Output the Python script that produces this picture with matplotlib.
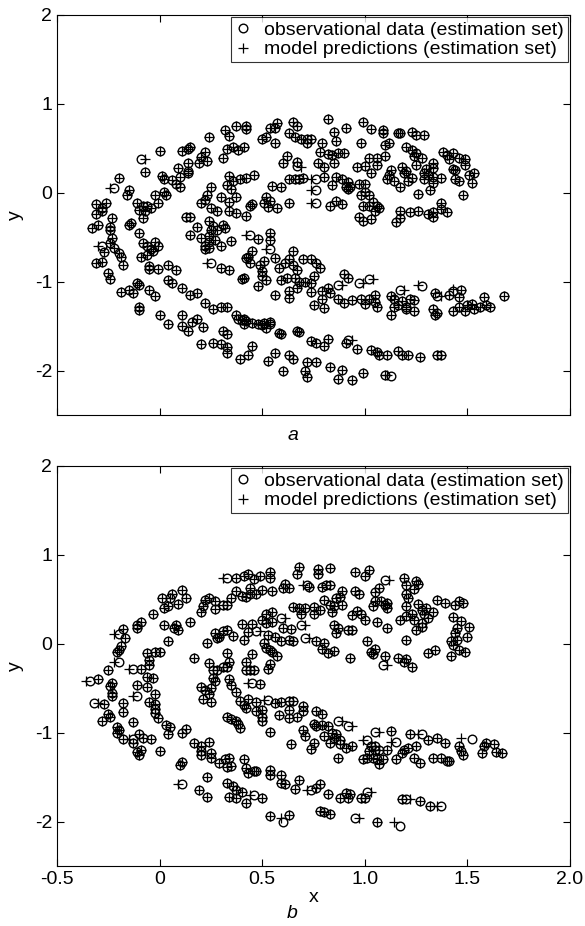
import numpy as np
import matplotlib
matplotlib.use('Agg')
import matplotlib.pyplot as plt

plt.rcParams['font.family'] = ['Liberation Sans', 'DejaVu Sans']

# panel a: points where the prediction sits on the observation
a_points = [
    (0.37, 0.75), (0.42, 0.75), (0.32, 0.71), (0.34, 0.64), (0.24, 0.63), (0.00, 0.47),
    (0.11, 0.47), (0.14, 0.49), (0.15, 0.51), (0.22, 0.46), (0.20, 0.40), (0.23, 0.36),
    (0.19, 0.33), (0.14, 0.34), (0.31, 0.39), (0.33, 0.49), (0.36, 0.51), (0.38, 0.48),
    (0.41, 0.52), (0.09, 0.28), (0.14, 0.25), (0.14, 0.22), (-0.07, 0.23), (0.01, 0.19),
    (0.02, 0.15), (0.06, 0.14), (0.08, 0.10), (0.10, 0.07), (0.10, 0.18), (-0.20, 0.17),
    (-0.15, 0.03), (-0.16, -0.02), (-0.02, -0.02), (0.02, 0.01), (0.03, -0.03), (-0.11, -0.12),
    (-0.08, -0.15), (-0.06, -0.15), (-0.04, -0.17), (-0.10, -0.19), (-0.01, -0.12),
    (-0.31, -0.13), (-0.28, -0.17), (-0.26, -0.12), (0.25, 0.06), (0.33, 0.09), (0.35, 0.04),
    (0.36, 0.13), (0.34, 0.19), (0.39, 0.15), (0.42, 0.17), (0.23, -0.02), (0.22, -0.08),
    (0.20, -0.12), (0.30, -0.05), (0.34, -0.10), (0.37, -0.05), (0.25, -0.17), (0.28, -0.21),
    (0.34, -0.21), (0.37, -0.23), (0.44, -0.15),
    (-0.31, -0.24), (-0.28, -0.21), (-0.23, -0.28), (-0.33, -0.40), (-0.30, -0.36), (-0.24, -0.38),
    (-0.24, -0.42), (-0.14, -0.34), (-0.15, -0.36), (-0.08, -0.28), (-0.07, -0.21), (-0.10, -0.45),
    (-0.23, -0.51), (-0.24, -0.57), (-0.27, -0.67), (-0.22, -0.62), (-0.20, -0.68), (-0.19, -0.72),
    (-0.18, -0.81), (-0.31, -0.79), (-0.28, -0.78), (-0.08, -0.57), (-0.06, -0.60), (-0.04, -0.63),
    (-0.02, -0.55), (-0.01, -0.60), (-0.03, -0.66), (-0.09, -0.72), (-0.06, -0.70), (-0.05, -0.82),
    (-0.05, -0.86), (-0.01, -0.86), (0.04, -0.81), (0.08, -0.87), (-0.25, -0.90), (-0.24, -0.97),
    (-0.11, -1.01), (-0.10, -1.04), (0.04, -0.98), (0.06, -1.01), (0.11, -1.07), (-0.19, -1.12),
    (-0.15, -1.09), (-0.13, -1.13), (-0.05, -1.09), (-0.02, -1.16), (-0.10, -1.28), (-0.10, -1.32),
    (0.15, -1.15), (0.18, -1.13), (0.22, -1.24), (0.26, -1.31), (0.30, -1.28), (0.33, -1.28),
    (0.00, -1.38), (0.11, -1.38), (0.04, -1.48), (0.11, -1.50), (0.14, -1.55), (0.16, -1.45),
    (0.18, -1.42), (0.21, -1.51), (0.37, -1.38), (0.40, -1.43), (0.41, -1.48), (0.31, -1.56),
    (0.13, -0.27), (0.15, -0.27), (0.18, -0.38), (0.15, -0.47), (0.20, -0.51), (0.22, -0.60),
    (0.24, -0.55), (0.24, -0.49), (0.27, -0.53), (0.28, -0.42), (0.26, -0.37), (0.24, -0.32),
    (0.25, -0.42), (0.24, -0.62), (0.22, -0.63), (0.31, -0.36), (0.32, -0.40), (0.30, -0.60),
    (0.35, -0.54), (0.30, -0.85), (0.34, -0.87), (0.40, -0.97), (0.42, -0.73), (0.42, -0.26),
    (0.82, 0.83), (0.99, 0.80), (0.91, 0.73), (1.03, 0.72), (1.09, 0.71), (1.09, 0.67),
    (1.16, 0.67), (0.85, 0.68), (0.42, 0.72), (0.54, 0.73), (0.57, 0.78), (0.56, 0.73),
    (0.65, 0.80), (0.67, 0.75), (0.63, 0.67), (0.66, 0.63), (0.69, 0.61), (0.72, 0.60),
    (0.74, 0.61), (0.72, 0.56), (0.50, 0.60), (0.52, 0.63), (0.56, 0.56), (0.79, 0.56),
    (0.86, 0.58), (0.98, 0.56), (1.10, 0.54), (1.12, 0.56), (0.78, 0.46), (0.82, 0.44),
    (0.84, 0.42), (0.87, 0.45), (0.90, 0.45), (0.62, 0.41), (0.60, 0.33), (0.67, 0.35),
    (0.77, 0.33), (0.80, 0.29), (0.85, 0.33), (0.96, 0.29), (1.00, 0.30), (1.02, 0.39),
    (1.06, 0.39), (1.10, 0.41), (1.06, 0.31), (1.03, 0.22), (1.13, 0.26), (1.12, 0.20),
    (1.11, 0.15), (1.14, 0.13), (1.17, 0.07), (1.18, 0.29), (1.19, 0.22), (0.46, 0.20),
    (0.63, 0.15), (0.66, 0.15), (0.68, 0.15), (0.70, 0.17), (0.80, 0.18), (0.86, 0.18),
    (0.89, 0.15), (0.92, 0.12), (0.93, 0.07), (0.91, 0.07), (0.84, 0.09), (0.97, 0.10),
    (1.00, 0.10), (0.55, 0.08), (0.59, 0.07), (0.92, 0.04), (1.00, 0.01), (0.98, -0.03),
    (1.02, -0.03), (0.52, -0.05), (0.54, -0.09), (0.51, -0.12), (0.53, -0.16), (0.57, -0.17),
    (0.45, -0.13), (0.63, -0.11), (0.86, -0.09), (0.83, -0.15), (0.89, -0.13), (0.99, -0.15),
    (1.04, -0.10), (1.02, -0.15), (1.06, -0.15), (1.07, -0.17), (1.17, -0.20),
    (1.17, 0.67), (1.23, 0.68), (1.25, 0.65), (1.29, 0.65), (1.20, 0.51), (1.23, 0.48),
    (1.25, 0.45), (1.24, 0.41), (1.28, 0.39), (1.38, 0.46), (1.40, 0.43), (1.41, 0.38),
    (1.43, 0.45), (1.46, 0.39), (1.49, 0.38), (1.49, 0.31), (1.33, 0.33), (1.33, 0.28),
    (1.30, 0.27), (1.29, 0.22), (1.31, 0.20), (1.25, 0.31), (1.20, 0.25), (1.43, 0.27),
    (1.44, 0.26), (1.51, 0.20), (1.53, 0.22), (1.37, 0.17), (1.33, 0.18), (1.29, 0.15),
    (1.33, 0.11), (1.44, 0.15), (1.46, 0.13), (1.52, 0.11), (1.23, 0.17), (1.21, 0.13),
    (1.32, 0.03), (1.26, -0.01), (1.48, -0.03), (1.37, -0.11), (1.37, -0.18), (1.40, -0.22),
    (1.22, -0.22), (1.26, -0.21), (1.31, -0.24), (1.33, -0.22),
    (0.97, -0.27), (0.99, -0.32), (1.03, -0.30), (1.05, -0.21), (1.17, -0.28), (1.15, -0.33),
    (0.48, -0.52), (0.54, -0.45), (0.54, -0.53), (0.45, -0.66), (0.43, -0.72), (0.44, -0.79),
    (0.49, -0.81), (0.50, -0.88), (0.52, -0.98), (0.50, -0.94), (0.51, -0.77), (0.56, -0.73),
    (0.41, -0.96), (0.65, -0.66), (0.58, -0.85), (0.61, -0.79), (0.63, -0.75), (0.65, -0.81),
    (0.67, -0.87), (0.70, -0.74), (0.74, -0.75), (0.76, -0.79), (0.78, -0.85), (0.59, -0.98),
    (0.62, -0.96), (0.66, -0.96), (0.68, -1.00), (0.71, -1.00), (0.74, -1.01), (0.75, -0.94),
    (0.67, -1.07), (0.63, -1.11), (0.63, -1.18), (0.48, -1.05), (0.56, -1.15), (0.74, -1.12),
    (0.79, -1.11), (0.82, -1.07), (0.83, -1.13), (0.75, -1.26), (0.79, -1.20), (0.80, -1.30),
    (0.90, -0.91), (0.92, -0.96), (0.87, -1.20), (0.90, -1.24), (0.94, -1.21), (0.98, -1.19),
    (1.00, -1.25), (1.02, -1.20), (1.05, -1.15), (1.05, -1.23), (1.06, -1.28), (1.13, -1.16),
    (1.14, -1.20), (1.16, -1.26), (1.14, -1.28), (1.18, -1.22), (1.20, -1.28), (1.13, -1.37),
    (0.41, -1.42), (0.45, -1.46), (0.48, -1.48), (0.50, -1.49), (0.52, -1.52), (0.54, -1.45),
    (0.54, -1.48), (0.58, -1.58), (0.67, -1.55), (0.68, -1.57),
    (1.33, -0.27), (1.34, -1.13), (1.41, -1.15), (1.47, -1.09), (1.46, -1.17), (1.58, -1.17),
    (1.68, -1.16), (1.22, -1.20), (1.24, -1.21), (1.20, -1.31), (1.24, -1.33), (1.33, -1.31),
    (1.35, -1.35), (1.34, -1.37), (1.43, -1.33), (1.46, -1.28), (1.49, -1.33), (1.50, -1.26),
    (1.52, -1.25), (1.53, -1.31), (1.56, -1.28), (1.59, -1.26), (1.61, -1.28),
    (0.33, -1.59), (0.20, -1.70), (0.26, -1.69), (0.30, -1.70), (0.33, -1.74), (0.33, -1.80),
    (0.38, -1.42), (0.42, -1.44), (0.51, -1.46), (0.59, -1.59), (0.74, -1.67), (0.76, -1.69),
    (0.45, -1.72), (0.43, -1.82), (0.39, -1.87), (0.53, -1.89), (0.56, -1.80), (0.63, -1.83),
    (0.65, -1.87), (0.72, -1.90), (0.76, -1.90), (0.60, -2.00), (0.71, -2.00), (0.72, -2.07),
    (0.80, -1.72), (0.82, -1.64), (0.91, -1.69), (0.96, -1.76), (1.03, -1.77), (1.06, -1.79),
    (1.07, -1.82), (1.11, -1.82), (1.16, -1.78), (1.18, -1.82), (1.21, -1.82), (1.27, -1.85),
    (1.35, -1.82), (1.37, -1.82), (0.83, -1.96), (0.89, -1.99), (0.99, -2.03), (1.10, -2.05),
    (0.87, -2.10), (0.94, -2.11),
]
# panel a: points where the cross is visibly off the circle
a_obs_off = [(-0.09, 0.38), (-0.22, 0.05), (-0.28, -0.60), (0.25, -0.79), (0.67, 0.30),
             (0.76, 0.15), (0.76, 0.03), (0.76, -0.11), (0.44, -0.48), (0.54, -0.63),
             (0.87, -1.04), (0.97, -1.02), (1.02, -0.97), (1.17, -1.09), (1.28, -1.05),
             (1.35, -1.16), (1.43, -1.11), (0.92, -1.66), (1.13, -2.06)]
a_pred_off = [(-0.07, 0.38), (-0.24, 0.05), (-0.30, -0.60), (0.23, -0.79), (0.69, 0.29),
              (0.74, 0.15), (0.74, 0.03), (0.74, -0.11), (0.42, -0.48), (0.52, -0.63),
              (0.89, -1.04), (0.99, -1.02), (1.04, -0.97), (1.19, -1.09), (1.26, -1.04),
              (1.37, -1.16), (1.43, -1.08), (0.94, -1.66), (1.11, -2.05)]

# panel b
b_points = [
    (0.37, 0.74), (0.41, 0.76), (0.43, 0.79), (0.46, 0.73), (0.49, 0.76), (0.54, 0.74),
    (0.54, 0.81), (0.68, 0.86), (0.67, 0.78), (0.77, 0.84), (0.77, 0.78), (0.61, 0.67),
    (0.63, 0.63), (0.60, 0.63), (0.73, 0.64), (0.37, 0.59), (0.35, 0.52), (0.40, 0.54),
    (0.42, 0.53), (0.44, 0.63), (0.44, 0.56), (0.47, 0.56), (0.50, 0.60), (0.55, 0.59),
    (0.01, 0.51), (0.05, 0.51), (0.06, 0.56), (0.11, 0.60), (0.13, 0.51), (0.09, 0.45),
    (0.02, 0.40), (0.04, 0.42), (-0.03, 0.33), (0.22, 0.49), (0.24, 0.51), (0.27, 0.48),
    (0.21, 0.42), (0.20, 0.36), (0.27, 0.39), (0.31, 0.44), (0.33, 0.44), (0.15, 0.25),
    (0.65, 0.41), (0.68, 0.40), (0.71, 0.40), (0.75, 0.41), (0.69, 0.33), (0.75, 0.33),
    (0.55, 0.36), (0.52, 0.33), (0.50, 0.27), (0.52, 0.23), (0.55, 0.25), (-0.09, 0.25),
    (-0.11, 0.21), (-0.11, 0.18), (-0.18, 0.17), (-0.17, 0.07), (0.02, 0.21), (0.08, 0.21),
    (0.07, 0.18), (0.09, 0.16), (0.40, 0.22), (0.45, 0.22), (0.33, 0.16), (0.31, 0.14),
    (0.27, 0.12), (0.29, 0.08), (0.28, 0.06), (0.36, 0.09), (0.43, 0.13), (0.41, 0.04),
    (0.23, 0.01), (0.60, 0.18), (0.64, 0.17), (0.53, 0.10), (0.56, 0.08), (0.51, 0.01),
    (0.52, -0.05), (0.54, -0.07), (0.55, -0.09), (0.57, -0.14), (0.59, 0.03), (0.63, 0.04),
    (0.65, 0.03), (0.76, 0.03), (0.04, 0.03), (-0.19, -0.03), (-0.21, -0.09), (-0.20, -0.07),
    (-0.06, -0.10), (-0.02, -0.09), (0.00, -0.09), (0.17, -0.16), (0.33, -0.10), (0.45, -0.12),
    (-0.05, -0.18), (-0.05, -0.24), (-0.25, -0.29), (-0.09, -0.28), (0.24, -0.22), (0.26, -0.29),
    (0.28, -0.30), (0.31, -0.26), (0.33, -0.26), (0.34, -0.20), (0.42, -0.20), (0.44, -0.29),
    (0.46, -0.30), (0.42, -0.30), (0.54, -0.23), (0.53, -0.28), (-0.06, -0.37), (-0.03, -0.39),
    (-0.30, -0.40), (-0.23, -0.44), (0.26, -0.39), (0.27, -0.42), (0.34, -0.40), (0.35, -0.46),
    (0.49, -0.45), (-0.11, -0.46), (-0.06, -0.49), (0.20, -0.49), (0.25, -0.50),
    (0.83, 0.85), (0.95, 0.81), (1.00, 0.76), (1.02, 0.83), (1.19, 0.74), (1.20, 0.66),
    (1.25, 0.71), (1.26, 0.67), (1.24, 0.62), (0.79, 0.64), (0.81, 0.66), (0.83, 0.66),
    (0.89, 0.59), (0.88, 0.53), (0.86, 0.51), (0.95, 0.59), (0.97, 0.56), (1.05, 0.58),
    (1.07, 0.63), (1.20, 0.56), (1.21, 0.52), (0.80, 0.49), (0.83, 0.44), (0.85, 0.42),
    (0.84, 0.36), (0.89, 0.44), (0.78, 0.38), (1.05, 0.48), (1.08, 0.48), (1.10, 0.44),
    (1.11, 0.46), (1.11, 0.40), (1.04, 0.42), (1.20, 0.43), (1.26, 0.45), (1.28, 0.38),
    (1.30, 0.40), (1.33, 0.36), (1.29, 0.33), (1.31, 0.29), (1.35, 0.49), (1.39, 0.46),
    (1.44, 0.44), (1.46, 0.48), (1.48, 0.46), (0.94, 0.32), (0.96, 0.37), (0.98, 0.33),
    (1.00, 0.27), (1.06, 0.24), (1.17, 0.27), (1.20, 0.31), (1.23, 0.33), (1.24, 0.27),
    (1.28, 0.23), (1.28, 0.19), (1.43, 0.30), (1.47, 0.26), (1.45, 0.18), (1.44, 0.12),
    (1.45, 0.04), (1.42, 0.03), (1.43, -0.01), (1.51, 0.19), (1.50, 0.08), (0.85, 0.21),
    (0.87, 0.18), (0.86, 0.12), (0.92, 0.16), (0.94, 0.16), (1.11, 0.18), (1.25, 0.15),
    (0.80, 0.01), (0.79, -0.06), (0.82, -0.10), (0.85, -0.08), (1.01, 0.03), (1.20, 0.04),
    (1.05, -0.06), (1.03, -0.09), (1.04, -0.12), (0.93, -0.16), (1.10, -0.14), (1.16, -0.16),
    (1.20, -0.17), (1.19, -0.21), (1.23, -0.26), (1.31, -0.10), (1.34, -0.07), (1.42, -0.14),
    (1.46, -0.07), (1.49, -0.09),
    (-0.23, -0.55), (-0.23, -0.59), (-0.24, -0.48), (-0.02, -0.57), (-0.27, -0.68), (-0.18, -0.67),
    (-0.05, -0.65), (-0.02, -0.68), (-0.02, -0.73), (-0.02, -0.78), (-0.01, -0.83), (-0.18, -0.77),
    (-0.25, -0.79), (-0.24, -0.82), (-0.28, -0.87), (-0.13, -0.88), (-0.21, -0.94), (-0.20, -0.97),
    (-0.21, -1.00), (0.03, -0.91), (0.05, -0.94), (0.04, -1.01), (0.13, -0.96), (0.11, -1.00),
    (-0.10, -1.02), (-0.08, -1.06), (-0.04, -1.07), (-0.18, -1.07), (-0.13, -1.12), (-0.09, -1.19),
    (-0.11, -1.22), (-0.10, -1.25), (0.00, -1.21), (0.17, -1.12), (0.20, -1.15), (0.20, -1.21),
    (0.20, -1.25), (0.24, -1.10), (0.25, -1.23), (0.25, -1.28), (0.11, -1.33), (0.10, -1.36),
    (0.22, -0.52), (0.24, -0.57), (0.21, -0.62), (0.25, -0.66), (0.37, -0.54), (0.39, -0.64),
    (0.43, -0.62), (0.42, -0.72), (0.47, -0.65), (0.47, -0.76), (0.50, -0.74), (0.50, -0.82),
    (0.50, -0.87), (0.41, -0.69), (0.56, -0.67), (0.59, -0.65), (0.63, -0.64), (0.65, -0.64),
    (0.63, -0.74), (0.70, -0.70), (0.70, -0.76), (0.67, -0.82), (0.63, -0.84), (0.58, -0.80),
    (0.76, -0.76), (0.33, -0.82), (0.35, -0.85), (0.37, -0.87), (0.38, -0.90), (0.39, -0.95),
    (0.54, -0.99), (0.70, -0.97), (0.71, -1.04), (0.75, -0.90), (0.76, -0.93), (0.75, -1.12),
    (0.74, -1.18), (0.64, -1.13), (0.29, -1.34), (0.32, -1.30), (0.34, -1.28), (0.33, -1.39),
    (0.35, -1.38), (0.41, -1.30), (0.42, -1.40), (0.43, -1.45), (0.46, -1.43), (0.47, -1.43),
    (0.54, -1.42), (0.54, -1.48), (0.59, -1.48), (0.59, -1.57), (0.61, -1.58), (0.68, -1.53),
    (0.66, -1.63), (0.23, -1.50), (0.33, -1.57), (0.36, -1.60), (0.37, -1.64), (0.40, -1.67),
    (0.19, -1.64), (0.23, -1.72), (0.34, -1.72), (0.37, -1.74), (0.42, -1.79), (0.50, -1.73),
    (0.54, -1.94), (0.63, -1.93),
    (0.79, -0.79), (0.79, -0.91), (0.82, -0.93), (0.80, -1.04), (0.84, -1.00), (0.85, -1.06),
    (0.83, -1.12), (0.86, -1.02), (0.88, -1.08), (0.88, -1.13), (0.91, -1.17), (0.94, -1.15),
    (0.87, -1.28), (1.13, -0.98), (1.03, -1.15), (1.02, -1.21), (1.05, -1.20), (1.07, -1.20),
    (1.11, -1.19), (1.05, -1.15), (1.22, -1.01), (1.31, -1.08), (1.35, -1.06), (1.39, -1.12),
    (1.19, -1.19), (1.18, -1.23), (1.21, -1.17), (1.25, -1.15), (0.99, -1.30), (1.01, -1.28),
    (1.04, -1.28), (1.06, -1.30), (1.07, -1.35), (1.09, -1.30), (1.15, -1.30), (1.24, -1.29),
    (1.27, -1.34), (1.33, -1.28), (1.37, -1.29), (1.40, -1.32), (1.41, -1.32), (1.46, -1.15),
    (1.47, -1.21), (1.48, -1.25), (1.59, -1.12), (1.58, -1.15), (1.63, -1.13), (1.57, -1.23),
    (1.64, -1.22), (1.67, -1.23), (0.78, -1.58), (0.76, -1.62), (0.82, -1.69), (0.88, -1.73),
    (0.91, -1.68), (0.92, -1.74), (0.93, -1.69), (0.98, -1.73), (1.00, -1.74), (1.18, -1.75),
    (1.27, -1.77), (1.32, -1.82), (0.78, -1.88), (0.80, -1.89), (0.83, -1.92), (1.06, -2.00),
]
b_obs_off = [(0.33, 0.74), (0.72, 0.66), (0.59, 0.29), (-0.20, 0.11), (0.47, 0.14),
             (0.69, 0.21), (0.71, 0.06), (-0.20, -0.20), (-0.13, -0.28), (0.45, -0.44),
             (1.10, 0.72), (1.09, -0.24), (-0.11, -0.59), (-0.32, -0.67), (-0.13, -1.07),
             (0.53, -0.63), (0.74, -1.65), (0.11, -1.58), (0.46, -1.70), (0.60, -2.00),
             (0.87, -0.87), (0.92, -0.93), (1.05, -0.99), (1.01, -1.08), (1.15, -1.10),
             (1.28, -1.02), (1.52, -1.07), (1.01, -1.67), (1.20, -1.75), (1.37, -1.83),
             (0.95, -1.96), (1.17, -2.05), (-0.34, -0.42)]
b_pred_off = [(0.31, 0.74), (0.70, 0.66), (0.61, 0.29), (-0.22, 0.11), (0.49, 0.14),
              (0.71, 0.21), (0.73, 0.06), (-0.22, -0.20), (-0.15, -0.28), (0.43, -0.44),
              (1.12, 0.72), (1.11, -0.24), (-0.13, -0.59), (-0.30, -0.67), (-0.15, -1.07),
              (0.51, -0.63), (0.72, -1.65), (0.09, -1.58), (0.44, -1.70), (0.59, -1.96),
              (0.89, -0.87), (0.94, -0.93), (1.07, -0.99), (0.99, -1.08), (1.13, -1.10),
              (1.26, -1.02), (1.47, -1.06), (1.03, -1.67), (1.22, -1.75), (1.35, -1.83),
              (0.97, -1.96), (1.14, -2.01), (-0.36, -0.42)]

x_ticks = [-0.5, 0, 0.5, 1.0, 1.5, 2.0]
x_tick_labels = ['-0.5', '0', '0.5', '1.0', '1.5', '2.0']
y_ticks = [-2, -1, 0, 1, 2]

fs = 14
leg_fs = 14

fig = plt.figure(figsize=(5.85, 9.26), dpi=100)
ax_a = fig.add_axes([57 / 585, 1 - 415 / 926, 513 / 585, 400 / 926])
ax_b = fig.add_axes([57 / 585, 1 - 866 / 926, 513 / 585, 400 / 926])

panels = [(ax_a, a_points, a_obs_off, a_pred_off),
          (ax_b, b_points, b_obs_off, b_pred_off)]

for ax, pts, obs_off, pred_off in panels:
    obs = np.array(pts + obs_off)
    pred = np.array(pts + pred_off)
    ax.plot(obs[:, 0], obs[:, 1], 'o', ls='none', ms=6.2, mfc='none', mec='black', mew=1.0,
            label='observational data (estimation set)')
    ax.plot(pred[:, 0], pred[:, 1], '+', ls='none', ms=7, color='black', mew=0.9,
            label='model predictions (estimation set)')
    ax.set_xlim(-0.5, 2.0)
    ax.set_ylim(-2.5, 2.0)
    ax.set_xticks(x_ticks)
    ax.set_yticks(y_ticks)
    ax.set_yticklabels([str(v) for v in y_ticks], fontsize=fs)
    ax.tick_params(direction='in', top=True, right=True, length=5, width=0.8)
    for s in ax.spines.values():
        s.set_linewidth(0.8)
    ax.set_ylabel('y', fontsize=fs, labelpad=8)
    leg = ax.legend(loc='upper right', fontsize=leg_fs, frameon=True, fancybox=False,
                    edgecolor='black', handlelength=0.8, handletextpad=0.7,
                    borderpad=0.2, labelspacing=0.1, borderaxespad=0.12)
    leg.get_frame().set_linewidth(0.8)

ax_a.set_xticklabels([])
ax_b.set_xticklabels(x_tick_labels, fontsize=fs)
ax_b.set_xlabel('x', fontsize=fs, labelpad=1)

fig.text(0.5, 1 - 436 / 926, 'a', ha='center', va='center', fontsize=fs, style='italic')
fig.text(0.5, 1 - 913 / 926, 'b', ha='center', va='center', fontsize=fs, style='italic')

fig.savefig('out.png', dpi=100)
